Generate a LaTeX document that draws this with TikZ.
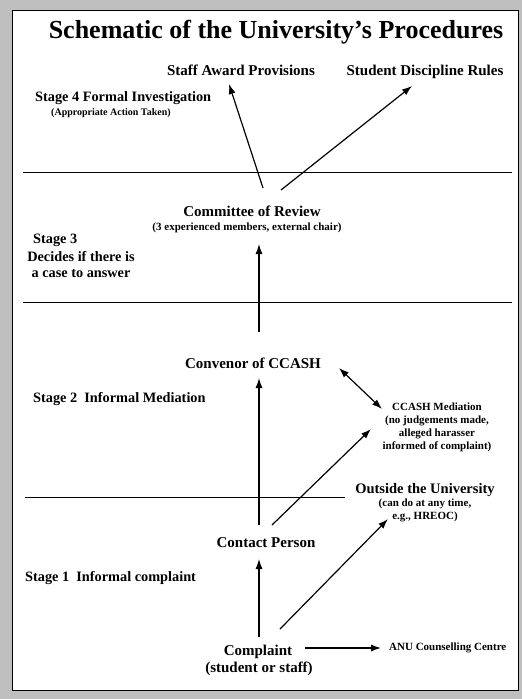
\documentclass[tikz,border=0pt]{standalone}
\usepackage{fontspec}
\setmainfont{Liberation Serif}
\usetikzlibrary{arrows.meta}

\begin{document}
\begin{tikzpicture}[x=1pt,y=-1pt,
        arr/.style={line width=1.2pt,-{Latex[length=10pt,width=7pt]}},
        big/.style={font=\fontsize{15}{17}\selectfont\bfseries,inner sep=1pt},
        small/.style={font=\fontsize{11}{13}\selectfont\bfseries,inner sep=1pt,align=center},
        stagetxt/.style={font=\fontsize{14.3}{16}\selectfont\bfseries,inner sep=0pt,anchor=west}]
        % frame
        \fill [gray!50] (0,0) rectangle (522,699);
        \filldraw [fill=white,line width=1pt] (12,10) rectangle (518,690);
        \useasboundingbox (0,0) rectangle (522,699);
        % title
        \node (title) [font=\fontsize{26}{30}\selectfont\bfseries] at (276,32) {Schematic of the University’s Procedures};
        % stage lines
        \draw [line width=1pt] (23,172) -- (512,172);
        \draw [line width=1pt] (23,302) -- (512,302);
        \draw [line width=1pt] (25,497) -- (345,497);
        % stage labels
        \node (stagefour) [stagetxt] at (35,98) {Stage 4 Formal Investigation};
        \node (stagefoursub) [small,anchor=west,font=\fontsize{10}{12}\selectfont\bfseries] at (50,113) {(Appropriate Action Taken)};
        \node (stagethree) [stagetxt] at (33,240) {Stage 3};
        \node (stagethreesub) [stagetxt,anchor=center,align=center,font=\fontsize{14.3}{16}\selectfont\bfseries] at (81,265) {Decides if there is\\a case to answer};
        \node (stagetwo) [stagetxt] at (33,399) {Stage 2~~Informal Mediation};
        \node (stageone) [stagetxt] at (25,578) {Stage 1~~Informal complaint};
        % outcomes
        \node (staff) [big] at (241,70) {Staff Award Provisions};
        \node (rules) [big] at (425,72) {Student Discipline Rules};
        \node (review) [big] at (252,211) {Committee of Review};
        \node (reviewsub) [small] at (247,228) {(3 experienced members, external chair)};
        \node (convenor) [big] at (253,363) {Convenor of CCASH};
        \node (mediation) [small] at (437,427) {CCASH Mediation\\(no judgements made,\\alleged harasser\\informed of complaint)};
        \node (outside) [big,font=\fontsize{14.5}{16}\selectfont\bfseries] at (425,490) {Outside the University};
        \node (outsidesub) [small] at (425,510) {(can do at any time,\\e.g., HREOC)};
        \node (contact) [big] at (266,543) {Contact Person};
        \node (complaint) [big] at (258,652) {Complaint};
        \node (complaintsub) [big] at (259,669) {(student or staff)};
        \node (anu) [small,anchor=west] at (388,648) {ANU Counselling Centre};
        % arrows
        \draw [arr] ([shift={(11,-23)}]review.center) -- ([shift={(-12,14)}]staff.center);
        \draw [arr] ([shift={(29,-21)}]review.center) -- ([shift={(-13,14)}]rules.center);
        \draw [arr] ([shift={(6,-31)}]convenor.center) -- ([shift={(12,16)}]reviewsub.center);
        \draw [arr] ([shift={(-7,-18)}]contact.center) -- ([shift={(6,15)}]convenor.center);
        \draw [arr,{Latex[length=10pt,width=7pt]}-{Latex[length=10pt,width=7pt]}] ([shift={(86,5)}]convenor.center) -- ([shift={(-55,-18)}]mediation.center);
        \draw [arr] ([shift={(6,-18)}]contact.center) -- ([shift={(-66,2)}]mediation.center);
        \draw [arr] ([shift={(1,-15)}]complaint.center) -- ([shift={(-7,16)}]contact.center);
        \draw [arr] ([shift={(22,-23)}]complaint.center) -- ([shift={(-37,9)}]outsidesub.center);
        \draw [arr] ([shift={(47,-4)}]complaint.center) -- ([xshift=-7pt]anu.west);
\end{tikzpicture}
\end{document}
